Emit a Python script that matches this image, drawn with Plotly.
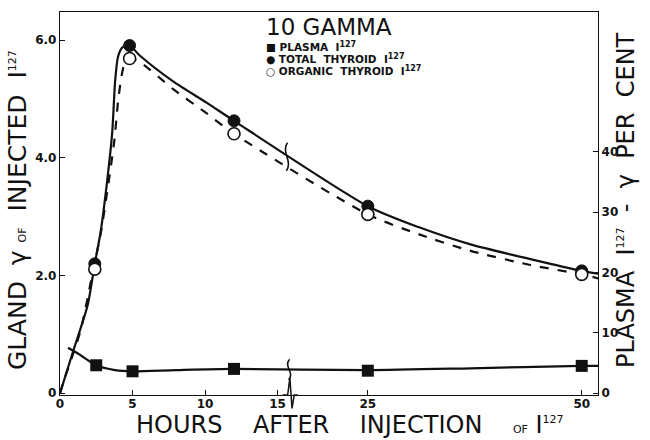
import plotly.graph_objects as go

# ---------------- data ----------------
thyroid_hours = [2.4, 4.8, 12, 25, 50]
total_thyroid = [2.20, 5.91, 4.63, 3.18, 2.08]      # gland gamma
organic_thyroid = [2.11, 5.69, 4.41, 3.04, 2.02]    # gland gamma
plasma_hours = [2.5, 5, 12, 25, 50]
plasma_pct = [4.6, 3.6, 4.0, 3.7, 4.5]              # per cent

# hand-drawn fitted curves
total_curve_h = [0, 0.9, 1.9, 2.4, 2.8, 3.2, 3.6, 3.8, 4.0, 4.3, 4.8, 5.5, 7.8, 10.1, 12, 25, 31, 37, 44, 50, 52]
total_curve_v = [0, 0.71, 1.49, 2.2, 2.74, 3.5, 4.43, 5.3, 5.72, 5.88, 5.91, 5.74, 5.3, 4.94, 4.63, 3.18, 2.82, 2.53, 2.28, 2.08, 2.03]
organic_curve_h = [0, 0.25, 1.4, 2.3, 2.8, 3.3, 3.75, 4.0, 4.25, 4.45, 4.8, 5.5, 7.8, 10.1, 12, 25, 31, 37, 44, 50, 52]
organic_curve_v = [0, 0.2, 1.05, 2.11, 2.7, 3.5, 4.3, 4.95, 5.4, 5.6, 5.69, 5.63, 5.17, 4.76, 4.41, 3.04, 2.70, 2.42, 2.18, 2.02, 1.95]
plasma_curve_h = [0.55, 1.4, 2.5, 3.8, 5, 8, 12, 25, 37, 50, 52]
plasma_curve_v = [7.5, 6.3, 4.6, 3.8, 3.6, 3.8, 4.0, 3.8, 4.1, 4.5, 4.5]

x_tick_hours = [0, 5, 10, 15, 25, 50]
left_ticks = [0, 2, 4, 6]
left_tick_text = ["0", "2.0", "4.0", "6.0"]
right_ticks = [0, 10, 20, 30, 40]

# ---------------- broken time scale ----------------
BREAK_H = 15.8      # hours where the axis is broken
SCALE2 = 0.59       # compression of the time scale beyond the break


def xpos(h):
    return h if h <= BREAK_H else BREAK_H + (h - BREAK_H) * SCALE2


def xs(hours):
    return [xpos(h) for h in hours]


X_MAX = 37.1
Y_RANGE = [-0.03, 6.48]
Y2_RANGE = [-0.33, 63.2]

FONT = "DejaVu Sans"
BLACK = "#111111"

fig = go.Figure()

fig.add_trace(go.Scatter(x=xs(total_curve_h), y=total_curve_v, mode="lines",
                         line=dict(color=BLACK, width=2.2, shape="spline", smoothing=0.7),
                         hoverinfo="skip", showlegend=False))
fig.add_trace(go.Scatter(x=xs(organic_curve_h), y=organic_curve_v, mode="lines",
                         line=dict(color=BLACK, width=2.2, dash="dash", shape="spline", smoothing=0.7),
                         hoverinfo="skip", showlegend=False))
fig.add_trace(go.Scatter(x=xs(plasma_curve_h), y=plasma_curve_v, mode="lines", yaxis="y2",
                         line=dict(color=BLACK, width=2.2, shape="spline", smoothing=0.7),
                         hoverinfo="skip", showlegend=False))

fig.add_trace(go.Scatter(x=xs(thyroid_hours), y=total_thyroid, mode="markers",
                         marker=dict(symbol="circle", size=12, color=BLACK, line=dict(color=BLACK, width=1)),
                         name="TOTAL THYROID", showlegend=False))
fig.add_trace(go.Scatter(x=xs(thyroid_hours), y=organic_thyroid, mode="markers",
                         marker=dict(symbol="circle", size=12, color="white", line=dict(color=BLACK, width=1.6)),
                         name="ORGANIC THYROID", showlegend=False))
fig.add_trace(go.Scatter(x=xs(plasma_hours), y=plasma_pct, mode="markers", yaxis="y2",
                         marker=dict(symbol="square", size=12, color=BLACK),
                         name="PLASMA", showlegend=False))

# ---------------- break marks ----------------
bx = xpos(BREAK_H)


def zig(xc, yc, yref, dx, dy):
    return dict(type="path", xref="x", yref=yref,
                path=(f"M {xc + dx*0.1},{yc + dy} C {xc - dx*1.2},{yc + dy*0.3} {xc + dx*1.2},{yc - dy*0.3} "
                      f"{xc - dx*0.1},{yc - dy}"),
                line=dict(color=BLACK, width=1.6))


shapes = []
# on the time axis
shapes.append(dict(type="path", xref="x", yref="paper",
                   path=f"M {bx - 0.45},0 L {bx - 0.1},0 L {bx + 0.05},0.045 L {bx + 0.2},-0.035 L {bx + 0.35},0 L {bx + 0.6},0",
                   line=dict(color=BLACK, width=1.5)))
# on the thyroid curves
shapes.append(zig(bx - 0.15, 4.02, "y", 0.35, 0.24))
# on the plasma curve
shapes.append(zig(bx, 3.9, "y2", 0.35, 1.7))
fig.update_layout(shapes=shapes)

# ---------------- text placed in picture pixels ----------------
L, R, T, B = 60, 52, 12, 45
PW, PH = 650 - L - R, 440 - T - B


def px(xp):
    return (xp - L) / PW


def py(yp):
    return (440 - B - yp) / PH


def iso(size):
    return f"I<sup><span style='font-size:{size}px'>127</span></sup>"


small_of = "<span style='font-size:11px'>OF</span>"
leg_font = dict(family=FONT, size=10.5, color=BLACK, weight="bold")

ann = [
    dict(text="10 GAMMA", x=px(264), y=py(27), xanchor="left", font=dict(family=FONT, size=23, color=BLACK)),
    dict(text="■ PLASMA  " + iso(8), x=px(264), y=py(46), xanchor="left", font=leg_font),
    dict(text="● TOTAL  THYROID  " + iso(8), x=px(264), y=py(58), xanchor="left", font=leg_font),
    dict(text="○ ORGANIC  THYROID  " + iso(8), x=px(264), y=py(70), xanchor="left", font=leg_font),
    # axis titles
    dict(text=f"HOURS    AFTER    INJECTION    {small_of} {iso(11)}", x=px(350), y=py(425),
         xanchor="center", font=dict(family=FONT, size=24, color=BLACK)),
    dict(text=f"GLAND  γ {small_of}  INJECTED  {iso(11)}", x=px(18), y=py(210), textangle=-90,
         xanchor="center", font=dict(family=FONT, size=25, color=BLACK)),
    dict(text=f"PLASMA  {iso(11)}  -  γ  PER  CENT", x=px(626), y=py(200), textangle=-90,
         xanchor="center", font=dict(family=FONT, size=24, color=BLACK)),
]
for a in ann:
    a.update(xref="paper", yref="paper", yanchor="middle", showarrow=False)
fig.update_layout(annotations=ann)

tickfont = dict(family=FONT, size=12, color=BLACK, weight="bold")
axis_common = dict(ticks="inside", ticklen=5, tickcolor=BLACK, tickwidth=1.2,
                   showline=True, linecolor=BLACK, linewidth=1.3,
                   showgrid=False, zeroline=False, tickfont=tickfont)

fig.update_layout(
    width=650, height=440,
    margin=dict(l=L, r=R, t=T, b=B),
    paper_bgcolor="white", plot_bgcolor="white",
    showlegend=False,
    xaxis=dict(range=[0, X_MAX], tickvals=xs(x_tick_hours), ticktext=[str(t) for t in x_tick_hours],
               mirror=True, ticklabelstandoff=-3, **axis_common),
    yaxis=dict(range=Y_RANGE, tickvals=left_ticks, ticktext=left_tick_text, **axis_common),
    yaxis2=dict(range=Y2_RANGE, tickvals=right_ticks, overlaying="y", side="right", **axis_common),
)

fig.write_html("out.html", config={"displayModeBar": False},
               post_script="document.body.style.margin='0px';")
